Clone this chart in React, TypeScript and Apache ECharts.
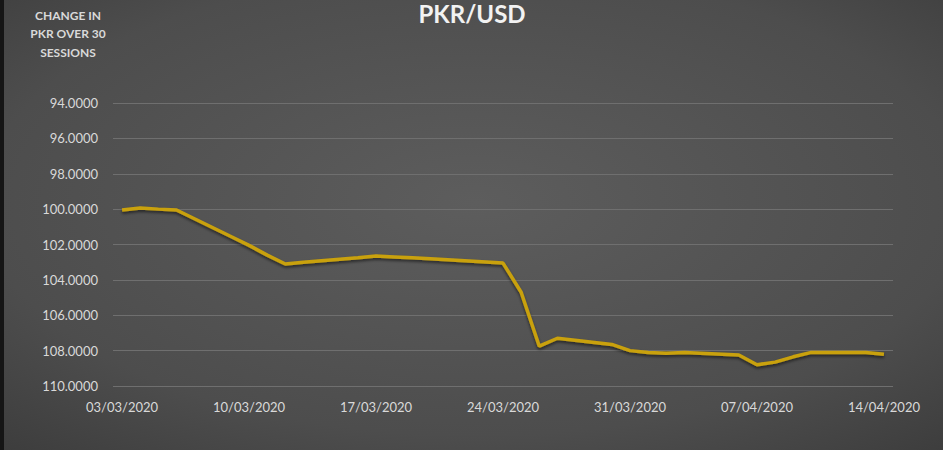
import React, { useEffect, useRef } from "react";
import * as echarts from "echarts";

const dates: string[] = [
  "03/03/2020", "04/03/2020", "05/03/2020", "06/03/2020",
  "09/03/2020", "10/03/2020", "11/03/2020", "12/03/2020", "13/03/2020",
  "16/03/2020", "17/03/2020", "18/03/2020", "19/03/2020", "20/03/2020",
  "24/03/2020", "25/03/2020", "26/03/2020", "27/03/2020",
  "30/03/2020", "31/03/2020", "01/04/2020", "02/04/2020", "03/04/2020",
  "06/04/2020", "07/04/2020", "08/04/2020", "09/04/2020", "10/04/2020",
  "13/04/2020", "14/04/2020",
];

const pkrUsd: number[] = [
  100.05, 99.93, 100.0, 100.05,
  101.55, 102.05, 102.6, 103.1, 103.0,
  102.75, 102.65, 102.7, 102.75, 102.8,
  103.05, 104.7, 107.75, 107.3,
  107.65, 108.0, 108.1, 108.15, 108.1,
  108.25, 108.8, 108.65, 108.35, 108.1,
  108.1, 108.2,
];

const xTickDates: string[] = [
  "03/03/2020", "10/03/2020", "17/03/2020", "24/03/2020",
  "31/03/2020", "07/04/2020", "14/04/2020",
];

const yTicks: number[] = [94, 96, 98, 100, 102, 104, 106, 108, 110];

const DAY = 86400000;
const toUtc = (s: string) => {
  const [d, m, y] = s.split("/").map(Number);
  return Date.UTC(y, m - 1, d);
};
const t0 = toUtc(dates[0]);
const dayOffset = (s: string) => Math.round((toUtc(s) - t0) / DAY);
const fmtDay = (off: number) => {
  const dt = new Date(t0 + Math.round(off) * DAY);
  const dd = String(dt.getUTCDate()).padStart(2, "0");
  const mm = String(dt.getUTCMonth() + 1).padStart(2, "0");
  return `${dd}/${mm}/${dt.getUTCFullYear()}`;
};

export default function App() {
  const ref = useRef<HTMLDivElement>(null);
  useEffect(() => {
    document.body.style.margin = "0";
    if (!ref.current) return;
    const chart = echarts.init(ref.current, undefined, { renderer: "svg" });
    const lastOff = dayOffset(dates[dates.length - 1]);
    chart.setOption({
      animation: false,
      backgroundColor: {
        type: "radial",
        x: 0.5,
        y: 0.45,
        r: 1.15,
        colorStops: [
          { offset: 0, color: "#5d5d5d" },
          { offset: 0.45, color: "#4d4d4d" },
          { offset: 1, color: "#202020" },
        ],
      },
      grid: { left: 113, right: 57, top: 103, bottom: 64 },
      xAxis: {
        type: "value",
        min: -0.5,
        max: lastOff + 0.5,
        axisLine: { show: false },
        axisTick: { show: false },
        splitLine: { show: false },
        axisLabel: {
          customValues: xTickDates.map(dayOffset),
          formatter: (v: number) => fmtDay(v),
          color: "#d9d9d9",
          fontFamily: "Lato",
          fontSize: 13,
          margin: 14,
        },
      },
      yAxis: {
        type: "value",
        inverse: true,
        min: yTicks[0],
        max: yTicks[yTicks.length - 1],
        interval: 2,
        axisLine: { show: false },
        axisTick: { show: false },
        splitLine: { lineStyle: { color: "#6f6f6f", width: 1 } },
        axisLabel: {
          formatter: (v: number) => v.toFixed(4),
          color: "#d9d9d9",
          fontFamily: "Lato",
          fontSize: 13,
          margin: 15,
        },
      },
      series: [
        {
          type: "line",
          data: dates.map((d, i) => [dayOffset(d), pkrUsd[i]]),
          showSymbol: false,
          symbol: "none",
          lineStyle: {
            color: "#c9a10b",
            width: 3.5,
            shadowColor: "rgba(0,0,0,0.55)",
            shadowBlur: 3,
            shadowOffsetY: 2,
          },
        },
      ],
      graphic: [
        {
          type: "rect",
          left: 0,
          top: 0,
          shape: { width: 4, height: 450 },
          style: { fill: "#151515" },
          silent: true,
        },
        {
          type: "rect",
          left: 943,
          top: 0,
          shape: { width: 7, height: 450 },
          style: { fill: "#ffffff" },
          silent: true,
        },
        {
          type: "text",
          x: 472,
          y: 1,
          style: {
            text: "PKR/USD",
            fill: "#f2f2f2",
            font: "bold 24px Lato",
            align: "center",
            verticalAlign: "top",
            shadowColor: "rgba(0,0,0,0.6)",
            shadowBlur: 3,
            shadowOffsetY: 2,
          },
          silent: true,
        },
        {
          type: "text",
          x: 68,
          y: 6,
          style: {
            text: "CHANGE IN\nPKR OVER 30\nSESSIONS",
            fill: "#d9d9d9",
            font: "bold 12px Lato",
            align: "center",
            verticalAlign: "top",
            lineHeight: 18.5,
          },
          silent: true,
        },
      ],
    });
    return () => chart.dispose();
  }, []);
  return <div ref={ref} style={{ width: 950, height: 450 }} />;
}
